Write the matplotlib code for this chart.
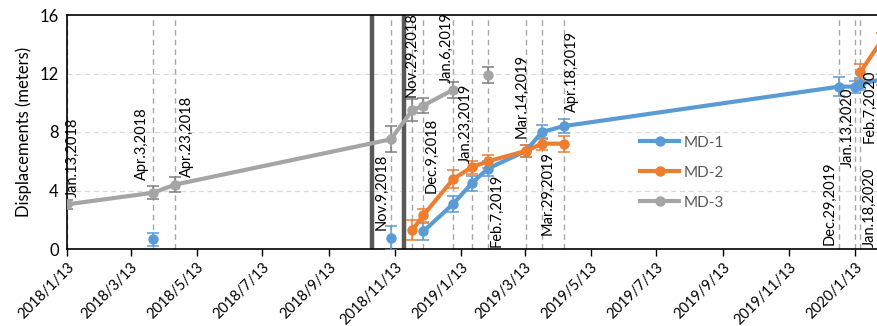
import numpy as np
import matplotlib
matplotlib.use("Agg")
import matplotlib.pyplot as plt
import matplotlib.dates as mdates
from matplotlib.lines import Line2D
from datetime import datetime, timedelta

plt.rcParams['font.family'] = ['Lato', 'DejaVu Sans']

# Observation dates
dates = ["2018-01-13", "2018-04-03", "2018-04-23", "2018-11-09", "2018-11-29",
         "2018-12-09", "2019-01-06", "2019-01-23", "2019-02-07", "2019-03-14",
         "2019-03-29", "2019-04-18", "2019-12-29", "2020-01-13", "2020-01-18",
         "2020-02-07"]
date_labels = ["Jan.13,2018", "Apr.3,2018", "Apr.23,2018", "Nov.9,2018",
               "Nov.29,2018", "Dec.9,2018", "Jan.6,2019", "Jan.23,2019",
               "Feb.7,2019", "Mar.14,2019", "Mar.29,2019", "Apr.18,2019",
               "Dec.29,2019", "Jan.13,2020", "Jan.18,2020", "Feb.7,2020"]
nan = np.nan

# Displacements (m) and error estimates for each monitoring point
md1 = [nan, 0.65, nan, 0.75, nan, 1.2, 3.1, 4.5, 5.5, 6.7, 8.0, 8.4, 11.1, 11.1, 11.3, 11.6]
md1_err = [nan, 0.45, nan, 0.8, nan, 0.6, 0.55, 0.5, 0.5, 0.4, 0.5, 0.5, 0.65, 0.4, 0.4, 0.4]
md2 = [nan, nan, nan, nan, 1.3, 2.3, 4.8, 5.6, 6.0, 6.7, 7.2, 7.2, nan, nan, 12.1, 14.3]
md2_err = [nan, nan, nan, nan, 0.7, 0.45, 0.6, 0.45, 0.45, 0.4, 0.4, 0.55, nan, nan, 0.55, 0.5]
md3 = [3.05, 3.85, 4.4, 7.5, 9.5, 9.8, 10.9, nan, 11.9, nan, nan, nan, nan, nan, nan, nan]
md3_err = [0.3, 0.45, 0.5, 0.9, 0.75, 0.5, 0.55, nan, 0.55, nan, nan, nan, nan, nan, nan, nan]

# Two key event dates (thick markers)
event_dates = ["2018-10-23", "2018-11-21"]

x_ticks = ["2018/1/13", "2018/3/13", "2018/5/13", "2018/7/13", "2018/9/13",
           "2018/11/13", "2019/1/13", "2019/3/13", "2019/5/13", "2019/7/13",
           "2019/9/13", "2019/11/13", "2020/1/13"]

# Label placement: bottom of rotated text (m) and horizontal offset from line (px)
label_y = [3.56, 4.72, 4.92, 1.30, 10.39, 3.83, 11.35, 5.88, 0.14, 7.59,
           0.96, 9.37, 0.27, 5.61, 0.14, 7.25]
label_dx = [6, -11, 12, -9, -1, 8, -7, -6, 9, -4, 6, 8, -9, -7, 9, -12]

W, H = 878, 326
fig = plt.figure(figsize=(W / 100, H / 100), dpi=100)
ax = fig.add_axes([67 / W, (H - 249) / H, (W - 67) / W, (249 - 15) / H])

d = [datetime.strptime(s, "%Y-%m-%d") for s in dates]
start = datetime(2018, 1, 13)
ax.set_xlim(start, start + timedelta(days=751.3))
ax.set_ylim(0, 16)

# horizontal grid
for yv in [4, 8, 12]:
    ax.axhline(yv, color='#d9d9d9', lw=0.9, ls=(0, (4, 3)), zorder=0)

# dashed observation lines and labels
for dt, lab, ly, dx in zip(d, date_labels, label_y, label_dx):
    ax.axvline(dt, color='#a6a6a6', lw=1.0, ls=(0, (4, 3)), zorder=1)
    ax.annotate(lab, xy=(mdates.date2num(dt), ly), xytext=(dx, 0),
                textcoords='offset pixels', rotation=90, ha='center',
                va='bottom', fontsize=10.5, color='#000000', zorder=5,
                annotation_clip=False)

for ed in event_dates:
    ax.axvline(datetime.strptime(ed, "%Y-%m-%d"), color='#595959', lw=3.2, zorder=2)

series = [("MD-1", md1, md1_err, '#5B9BD5', '#5B9BD5'),
          ("MD-2", md2, md2_err, '#ED7D31', '#ED7D31'),
          ("MD-3", md3, md3_err, '#A5A5A5', '#7F7F7F')]
handles = []
for name, vals, errs, col, ecol in series:
    ax.errorbar(d, vals, yerr=errs, fmt='none', ecolor=ecol, elinewidth=1.1,
                capsize=4, capthick=1.1, zorder=3)
    ax.plot(d, vals, color=col, lw=3, marker='o', ms=6.5, zorder=4)
    handles.append(Line2D([], [], color=col, lw=3, marker='o', ms=6.5, label=name))

leg = ax.legend(handles=handles, loc='upper left',
                bbox_to_anchor=(626 / W, (H - 122) / H),
                bbox_transform=fig.transFigure, frameon=False, fontsize=11,
                handlelength=2.6, labelspacing=1.05, handletextpad=0.3)
for t in leg.get_texts():
    t.set_color('#595959')

ax.set_xticks([datetime.strptime(s, "%Y/%m/%d") for s in x_ticks])
ax.set_xticklabels(x_ticks, rotation=45, ha='right', rotation_mode='anchor',
                   fontsize=10.5)
ax.tick_params(axis='x', direction='out', length=5, width=1, pad=3)
ax.set_yticks([0, 4, 8, 12, 16])
ax.tick_params(axis='y', length=0, labelsize=12, pad=6)
ax.set_ylabel("Displacements (meters)", fontsize=12, labelpad=5)

for s in ['left', 'bottom', 'top']:
    ax.spines[s].set_color('black')
    ax.spines[s].set_linewidth(1.2)
ax.spines['right'].set_visible(False)

fig.savefig("out.png", dpi=100)
